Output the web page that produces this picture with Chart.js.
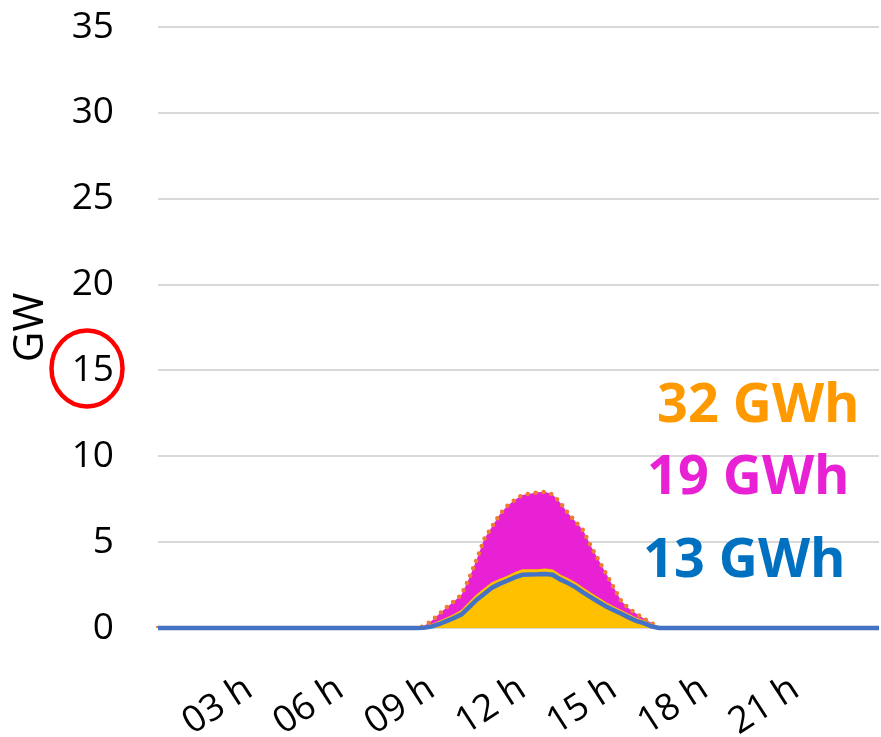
<!DOCTYPE html>
<html>
<head>
<meta charset="utf-8">
<script src="https://cdn.jsdelivr.net/npm/chart.js@4/dist/chart.umd.min.js"></script>
<style>
  html, body { margin: 0; padding: 0; background: #fff; }
  canvas { display: block; }
</style>
</head>
<body>
<canvas id="chart" width="881" height="737"></canvas>
<script>
// quarter-hour categories of one day
const times = [
    '00:00','00:15','00:30','00:45','01:00','01:15','01:30','01:45','02:00','02:15','02:30','02:45',
    '03:00','03:15','03:30','03:45','04:00','04:15','04:30','04:45','05:00','05:15','05:30','05:45',
    '06:00','06:15','06:30','06:45','07:00','07:15','07:30','07:45','08:00','08:15','08:30','08:45',
    '09:00','09:15','09:30','09:45','10:00','10:15','10:30','10:45','11:00','11:15','11:30','11:45',
    '12:00','12:15','12:30','12:45','13:00','13:15','13:30','13:45','14:00','14:15','14:30','14:45',
    '15:00','15:15','15:30','15:45','16:00','16:15','16:30','16:45','17:00','17:15','17:30','17:45',
    '18:00','18:15','18:30','18:45','19:00','19:15','19:30','19:45','20:00','20:15','20:30','20:45',
    '21:00','21:15','21:30','21:45','22:00','22:15','22:30','22:45','23:00','23:15','23:30','23:45'
]
const tickTimes = ['03:00', '06:00', '09:00', '12:00', '15:00', '18:00', '21:00']
const tickLabels = ['03 h', '06 h', '09 h', '12 h', '15 h', '18 h', '21 h']

// GW, yellow area (13 GWh)
const yellowArea = [
    0, 0, 0, 0, 0, 0, 0, 0, 0, 0, 0, 0,
    0, 0, 0, 0, 0, 0, 0, 0, 0, 0, 0, 0,
    0, 0, 0, 0, 0, 0, 0, 0, 0, 0, 0, 0.04,
    0.16, 0.35, 0.55, 0.75, 1.0, 1.45, 1.9, 2.25, 2.6, 2.8, 2.98, 3.2,
    3.36, 3.36, 3.37, 3.4, 3.35, 3.05, 2.85, 2.6, 2.3, 2.0, 1.72, 1.45,
    1.22, 1.0, 0.78, 0.55, 0.4, 0.2, 0, 0, 0, 0, 0, 0,
    0, 0, 0, 0, 0, 0, 0, 0, 0, 0, 0, 0,
    0, 0, 0, 0, 0, 0, 0, 0, 0, 0, 0, 0
]
// GW, top of magenta area (total 32 GWh)
const totalTop = [
    0, 0, 0, 0, 0, 0, 0, 0, 0, 0, 0, 0,
    0, 0, 0, 0, 0, 0, 0, 0, 0, 0, 0, 0,
    0, 0, 0, 0, 0, 0, 0, 0, 0, 0, 0, 0.1,
    0.4, 0.8, 1.2, 1.55, 1.95, 2.9, 4.0, 5.2, 5.9, 6.6, 7.1, 7.45,
    7.75, 7.82, 7.9, 7.93, 7.78, 7.3, 6.7, 6.2, 5.7, 4.8, 4.0, 3.2,
    2.4, 1.6, 1.15, 0.85, 0.55, 0.3, 0, 0, 0, 0, 0, 0,
    0, 0, 0, 0, 0, 0, 0, 0, 0, 0, 0, 0,
    0, 0, 0, 0, 0, 0, 0, 0, 0, 0, 0, 0
]
// GW, blue line
const blueLine = [
    0, 0, 0, 0, 0, 0, 0, 0, 0, 0, 0, 0,
    0, 0, 0, 0, 0, 0, 0, 0, 0, 0, 0, 0,
    0, 0, 0, 0, 0, 0, 0, 0, 0, 0, 0, 0.02,
    0.08, 0.22, 0.4, 0.58, 0.8, 1.22, 1.65, 2.0, 2.35, 2.57, 2.75, 2.95,
    3.1, 3.12, 3.13, 3.15, 3.1, 2.83, 2.62, 2.38, 2.08, 1.8, 1.53, 1.27,
    1.05, 0.84, 0.62, 0.42, 0.28, 0.1, 0, 0, 0, 0, 0, 0,
    0, 0, 0, 0, 0, 0, 0, 0, 0, 0, 0, 0,
    0, 0, 0, 0, 0, 0, 0, 0, 0, 0, 0, 0
]

const energyLabels = ['32 GWh', '19 GWh', '13 GWh']
const energyLevels = [12.0, 7.8, 2.97]   // baseline of each label in GW
const energyColors = ['#FF9900', '#E822D4', '#0070C0']
const energyOffsets = [222, 232, 236]   // distance from right edge of plot

const FONT = "'Open Sans', sans-serif"

const overlay = {
    id: 'overlay',
    afterDraw(chart) {
        const c = chart.ctx
        const area = chart.chartArea
        const y = chart.scales.y
        c.save()
        c.font = 'bold 54px ' + FONT
        c.textAlign = 'left'
        c.textBaseline = 'alphabetic'
        energyLabels.forEach((txt, i) => {
            c.fillStyle = energyColors[i]
            c.fillText(txt, area.right - energyOffsets[i], y.getPixelForValue(energyLevels[i]))
        })
        // red ring round the 15 tick
        c.strokeStyle = '#FF0000'
        c.lineWidth = 4.5
        c.beginPath()
        c.ellipse(area.left - 71, y.getPixelForValue(15) - 2, 35.5, 38, 0, 0, Math.PI * 2)
        c.stroke()
        c.restore()
    }
}

function noPadding(scale) {
    scale.paddingLeft = 0
    scale.paddingRight = 0
    scale.paddingTop = 0
    scale.paddingBottom = 0
}

const ctx = document.getElementById('chart').getContext('2d')
new Chart(ctx, {
    type: 'line',
    data: {
        labels: times,
        datasets: [
            {
                label: 'blue',
                data: blueLine,
                borderColor: '#4472C4',
                borderWidth: 4.5,
                fill: false,
                clip: false,
                pointRadius: 0,
                tension: 0
            },
            {
                label: 'yellow',
                data: yellowArea,
                borderColor: '#FFC000',
                borderWidth: 2,
                backgroundColor: '#FFC000',
                fill: 'origin',
                pointRadius: 0,
                tension: 0
            },
            {
                label: 'total',
                data: totalTop,
                borderColor: '#ED7D31',
                borderWidth: 4.5,
                borderDash: [0, 8],
                borderCapStyle: 'round',
                backgroundColor: '#E822D4',
                fill: '-1',
                pointRadius: 0,
                tension: 0
            }
        ]
    },
    options: {
        responsive: false,
        animation: false,
        devicePixelRatio: 1,
        layout: { padding: { left: 10, top: 27, right: 2, bottom: 0 } },
        plugins: {
            legend: { display: false },
            tooltip: { enabled: false }
        },
        scales: {
            x: {
                grid: { display: false },
                border: { display: false },
                ticks: {
                    autoSkip: false,
                    minRotation: 33,
                    maxRotation: 33,
                    padding: 31,
                    color: '#000',
                    font: { family: FONT, size: 37 },
                    callback: function (value, index) {
                        const pos = tickTimes.indexOf(times[index])
                        return pos >= 0 ? tickLabels[pos] : ''
                    }
                },
                afterFit(scale) {
                    scale.height = 109
                    noPadding(scale)
                }
            },
            y: {
                min: 0,
                max: 35,
                grid: { color: '#D9D9D9', lineWidth: 2, drawTicks: false },
                border: { display: false },
                ticks: {
                    stepSize: 5,
                    padding: 44,
                    color: '#000',
                    font: { family: FONT, size: 37 }
                },
                title: {
                    display: true,
                    text: 'GW',
                    color: '#000',
                    padding: { top: 0, bottom: 0 },
                    font: { family: FONT, size: 42, lineHeight: 1 }
                },
                afterFit(scale) {
                    scale.width = 148
                    noPadding(scale)
                }
            }
        }
    },
    plugins: [overlay]
})
</script>
</body>
</html>
